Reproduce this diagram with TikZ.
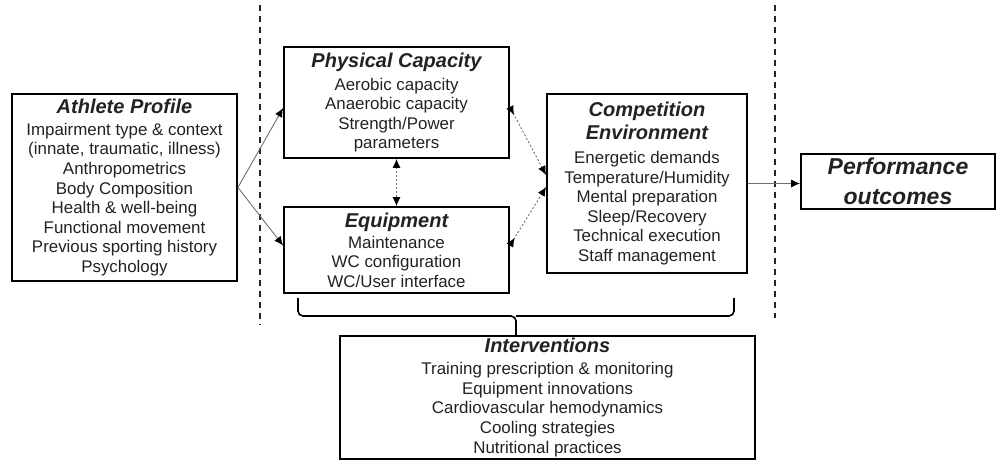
\documentclass[tikz,border=0pt]{standalone}
\usepackage{fontspec}
\setmainfont{Liberation Sans}
\usetikzlibrary{arrows.meta}
\definecolor{txt}{HTML}{222222}
\definecolor{conn}{HTML}{707070}
\newcommand\bodyf{\fontsize{16.9}{19.6}\selectfont}
\newcommand\titf{\fontsize{20}{22.5}\selectfont\bfseries\itshape}
\newcommand\perff{\fontsize{23}{30}\selectfont\bfseries\itshape}
\begin{document}
\begin{tikzpicture}[x=1pt,y=-1pt,
  tipA/.tip={Latex[length=9pt,width=8pt,color=black]},
  tipR/.tip={Latex[length=9pt,width=8pt,color=black,reversed]},
  box/.style={draw=black, line width=1.8pt, inner sep=0pt, align=center, font=\bodyf, text=txt},
  sepline/.style={draw=black!85, line width=1.3pt, dash pattern=on 6pt off 5pt},
  solidarrow/.style={draw=conn, line width=0.9pt, -tipA},
  dotarrow/.style={draw=conn, line width=0.9pt, dash pattern=on 2pt off 2pt, tipR-tipA},
  bothdot/.style={draw=conn, line width=0.9pt, dash pattern=on 2pt off 2pt, tipA-tipA},
  brace/.style={draw=black, line width=1.6pt, rounded corners=5pt}
]
\useasboundingbox (0,0) rectangle (1002,461);

% separators
\coordinate (s1t) at (260,5);
\coordinate (s1b) at (260,325);
\coordinate (s2t) at (775,5);
\coordinate (s2b) at (775,318);
\draw[sepline] (s1t) -- (s1b);
\draw[sepline] (s2t) -- (s2b);

\node[box, minimum width=225pt, minimum height=187pt] (ath) at (124.5,187.5)
 {{\titf Athlete Profile}\\[2.4pt]
  Impairment type \& context\\
  (innate, traumatic, illness)\\
  Anthropometrics\\
  Body Composition\\
  Health \& well-being\\
  Functional movement\\
  Previous sporting history\\
  Psychology};

\node[box, minimum width=225pt, minimum height=111pt] (pc) at (396.5,102.5)
 {{\titf Physical Capacity}\\[3.4pt]
  Aerobic capacity\\
  Anaerobic capacity\\
  Strength/Power\\
  parameters};

\node[box, minimum width=225pt, minimum height=86pt] (eq) at (396.5,250)
 {{\titf Equipment}\\[1.5pt]
  Maintenance\\
  WC configuration\\
  WC/User interface};

\node[box, minimum width=200pt, minimum height=179pt] (ce) at (647,183.5)
 {{\titf Competition}\\[3.4pt]
  {\titf Environment}\\[4.4pt]
  Energetic demands\\
  Temperature/Humidity\\
  Mental preparation\\
  Sleep/Recovery\\
  Technical execution\\
  Staff management};

\node[box, minimum width=194pt, minimum height=55pt, font=\perff] (perf) at (898,181.5)
 {Performance\\outcomes};

\node[box, minimum width=415pt, minimum height=123pt] (int) at (547.5,397.5)
 {{\titf Interventions}\\[2.4pt]
  Training prescription \& monitoring\\
  Equipment innovations\\
  Cardiovascular hemodynamics\\
  Cooling strategies\\
  Nutritional practices};

% connectors
\draw[solidarrow] (ath.east) -- ([yshift=-5.5pt]pc.west);
\draw[solidarrow] (ath.east) -- ([yshift=4.5pt]eq.west);
\draw[bothdot] (pc.south) -- (eq.north);
\draw[dotarrow] ([yshift=-4.5pt]pc.east) -- ([yshift=8.5pt]ce.west);
\draw[dotarrow] ([yshift=4.5pt]eq.east) -- ([yshift=-3.5pt]ce.west);
\draw[solidarrow] (ce.east) -- (ce.east -| perf.west);

% brace
\coordinate (bl) at (298,298);
\coordinate (br) at (734,298);
\coordinate (bm) at (516,316);
\draw[brace] (bl) -- (bl |- bm) -- (bm) -- (bm |- int.north);
\draw[brace] (br) -- (br |- bm) -- (bm);
\end{tikzpicture}
\end{document}
